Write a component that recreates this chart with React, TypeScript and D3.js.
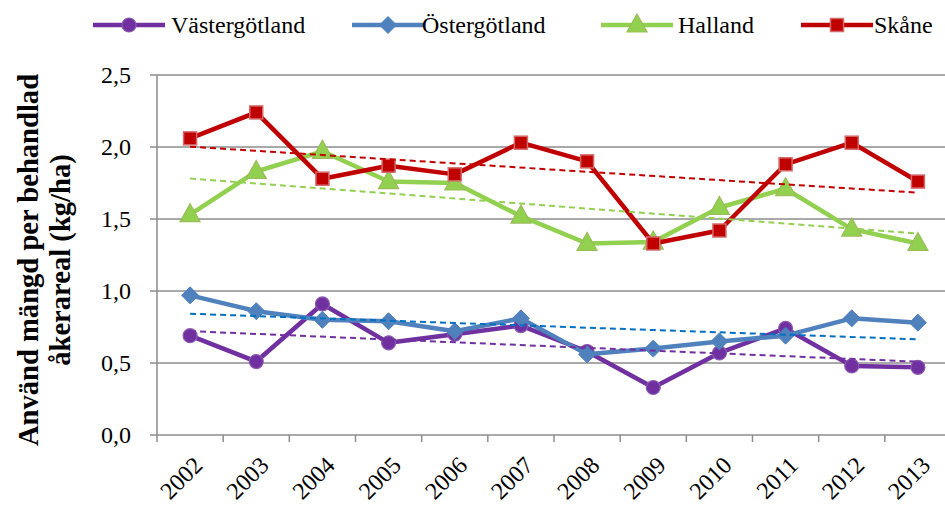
import React from "react";
import * as d3 from "d3";

const years = ["2002","2003","2004","2005","2006","2007","2008","2009","2010","2011","2012","2013"];
const vastergotland = [0.69,0.51,0.91,0.64,0.70,0.76,0.58,0.33,0.57,0.74,0.48,0.47];
const ostergotland = [0.97,0.86,0.80,0.79,0.72,0.81,0.56,0.60,0.65,0.69,0.81,0.78];
const halland = [1.53,1.83,1.97,1.76,1.75,1.52,1.33,1.34,1.58,1.71,1.43,1.33];
const skane = [2.06,2.24,1.78,1.87,1.81,2.03,1.90,1.33,1.42,1.88,2.03,1.76];
const yTicks = [0, 0.5, 1.0, 1.5, 2.0, 2.5];

type Series = { name: string; values: number[]; color: string; stroke: string; trend: string; marker: string };
const series: Series[] = [
  { name: "Västergötland", values: vastergotland, color: "#7030A0", stroke: "#8A5BB0", trend: "#7030A0", marker: "circle" },
  { name: "Östergötland", values: ostergotland, color: "#4F81BD", stroke: "#4F81BD", trend: "#0070C0", marker: "diamond" },
  { name: "Halland", values: halland, color: "#92D050", stroke: "#9BBB59", trend: "#92D050", marker: "triangle" },
  { name: "Skåne", values: skane, color: "#C00000", stroke: "#D46A6A", trend: "#C00000", marker: "square" },
];

function Marker({ type, x, y, fill, stroke }: { type: string; x: number; y: number; fill: string; stroke: string }) {
  if (type === "circle") return <circle cx={x} cy={y} r={7} fill={fill} stroke={stroke} strokeWidth={1.2} />;
  if (type === "diamond") return <path d={`M${x},${y - 8.5}L${x + 8.5},${y}L${x},${y + 8.5}L${x - 8.5},${y}Z`} fill={fill} stroke={stroke} strokeWidth={1} />;
  if (type === "triangle") return <path d={`M${x},${y - 11}L${x + 10},${y + 7}L${x - 10},${y + 7}Z`} fill={fill} stroke={stroke} strokeWidth={1.2} />;
  return <rect x={x - 6.5} y={y - 6.5} width={13} height={13} fill={fill} stroke={stroke} strokeWidth={1.5} />;
}

function trendline(vals: number[]) {
  const n = vals.length;
  const xs = vals.map((_, i) => i);
  const mx = d3.mean(xs)!;
  const my = d3.mean(vals)!;
  let num = 0, den = 0;
  xs.forEach((x, i) => { num += (x - mx) * (vals[i] - my); den += (x - mx) ** 2; });
  const b = num / den;
  const a = my - b * mx;
  return [a, a + b * (n - 1)];
}

const TXT = { fontFamily: "'Liberation Serif', Tinos, 'Times New Roman', serif" };

export default function App() {
  const W = 945, H = 508;
  const left = 157, right = 951, top = 75, bottom = 435;
  const x = d3.scaleBand<string>().domain(years).range([left, right]);
  const y = d3.scaleLinear().domain([0, 2.5]).range([bottom, top]);
  const cx = (i: number) => (x(years[i]) as number) + x.bandwidth() / 2;
  const line = d3.line<number>().x((_, i) => cx(i)).y((d) => y(d));
  const legendItems = [
    { s: series[0], lx: 93, tx: 171 },
    { s: series[1], lx: 352, tx: 422 },
    { s: series[2], lx: 601, tx: 678 },
    { s: series[3], lx: 801, tx: 874 },
  ];
  return (
    <svg width={W} height={H} style={{ position: "absolute", left: 0, top: 0, fontFamily: TXT.fontFamily }}>
      <rect width={W} height={H} fill="#fff" />
      {yTicks.map((t) => (
        <g key={t}>
          {t > 0 && <line x1={left} x2={W} y1={y(t)} y2={y(t)} stroke="#8C8C8C" strokeWidth={1.5} />}
          <line x1={left - 7} x2={left} y1={y(t)} y2={y(t)} stroke="#8C8C8C" strokeWidth={1.5} />
          <text x={131} y={y(t)} dy="0.35em" textAnchor="end" style={TXT} fontSize={24} fill="#000">
            {d3.format(".1f")(t).replace(".", ",")}
          </text>
        </g>
      ))}
      <line x1={left} x2={left} y1={top} y2={bottom} stroke="#8C8C8C" strokeWidth={1.5} />
      <line x1={left} x2={W} y1={bottom} y2={bottom} stroke="#8C8C8C" strokeWidth={1.5} />
      {years.map((yr) => (
        <line key={yr} x1={x(yr)!} x2={x(yr)!} y1={bottom} y2={bottom + 7} stroke="#8C8C8C" strokeWidth={1.5} />
      ))}
      {years.map((yr, i) => (
        <text key={yr} transform={`translate(${cx(i) + 2},${bottom + 20}) rotate(-45)`} textAnchor="end" dy="0.7em"
          style={TXT} fontSize={24} fill="#000">{yr}</text>
      ))}
      <text transform={`translate(28,260) rotate(-90)`} textAnchor="middle" dy="0.35em" style={TXT} fontWeight="bold" fontSize={28.6}>Använd mängd per behandlad</text>
      <text transform={`translate(60,260) rotate(-90)`} textAnchor="middle" dy="0.35em" style={TXT} fontWeight="bold" fontSize={28.6}>åkerareal (kg/ha)</text>
      {series.map((s) => (
        <g key={s.name}>
          <path d={line(s.values)!} fill="none" stroke={s.color} strokeWidth={4.5} strokeLinejoin="round" />
          {s.values.map((v, i) => (
            <Marker key={i} type={s.marker} x={cx(i)} y={y(v)} fill={s.color} stroke={s.stroke} />
          ))}
        </g>
      ))}
      {series.map((s) => {
        const [a, b] = trendline(s.values);
        return <line key={s.name} x1={cx(0)} x2={cx(years.length - 1)} y1={y(a)} y2={y(b)} stroke={s.trend} strokeWidth={2} strokeDasharray="6,4" />;
      })}
      {legendItems.map(({ s, lx, tx }) => (
        <g key={s.name}>
          <line x1={lx} x2={lx + 72} y1={25} y2={25} stroke={s.color} strokeWidth={4.5} />
          <Marker type={s.marker} x={lx + 36} y={25} fill={s.color} stroke={s.stroke} />
          <text x={tx} y={25} dy="0.35em" style={TXT} fontSize={24}>{s.name}</text>
        </g>
      ))}
    </svg>
  );
}
